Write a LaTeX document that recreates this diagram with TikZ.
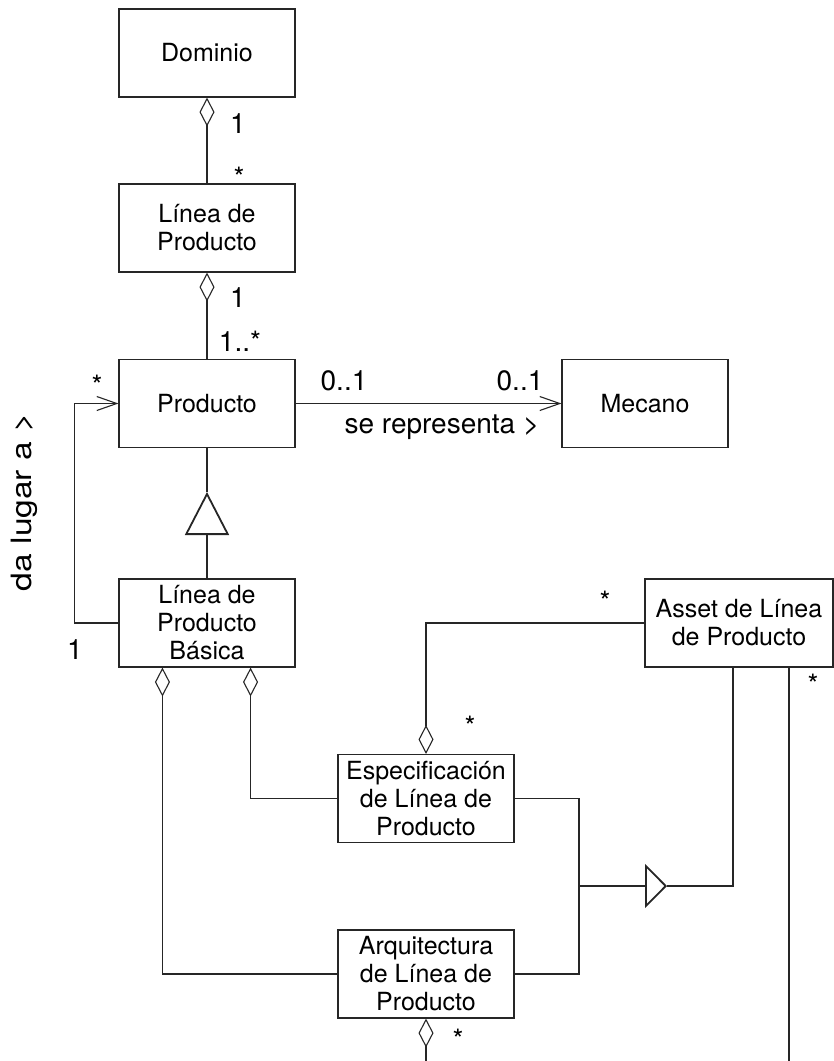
\documentclass[tikz,border=0pt]{standalone}
\usepackage{fontspec}
\setmainfont{TeX Gyre Heros}
\usetikzlibrary{arrows.meta}

\begin{document}
\begin{tikzpicture}[x=0.5pt,y=-0.5pt,line width=0.55pt,draw=black!85,
  clase/.style={draw,minimum width=88pt,minimum height=44pt,inner sep=1pt,align=center,font=\fontsize{12.5}{14}\selectfont},
  mult/.style={anchor=base,inner sep=0pt,font=\fontsize{14}{16}\selectfont},
  agg/.style={{Diamond[open,length=14.5pt,width=7.5pt]}-},
  nav/.style={-{Straight Barb[length=10pt,width=7pt]}},
  gen/.style={line width=0.9pt}]
\useasboundingbox (0,0) rectangle (834,1061);
\node[clase] (dom) at (207,53) {Dominio};
\node[clase] (lin) at (207,228) {Línea de\\Producto};
\node[clase] (prod) at (207,403.5) {Producto};
\node[clase,minimum width=83pt] (mec) at (645,403.5) {Mecano};
\node[clase] (lpb) at (207,623) {Línea de\\Producto\\Básica};
\node[clase,minimum width=94pt] (asset) at (739,623) {Asset de Línea\\de Producto};
\node[clase] (esp) at (426,798.5) {Especificación\\de Línea de\\Producto};
\node[clase] (arq) at (426,974) {Arquitectura\\de Línea de\\Producto};
\coordinate (gtop) at (207,492);
\coordinate (gjoin) at (579,886);
\coordinate (gtip) at (667,886);
\coordinate (arqend) at (426,1061);
\coordinate (assetend) at (789,1061);
\draw[agg] (dom) -- (lin);
\draw[agg] (lin) -- (prod);
\draw[nav] (prod) -- (mec);
\draw[nav] (lpb.west) -- ++(-44,0) |- (prod.west);
\draw[gen,-{Triangle[open,length=21.5pt,width=22pt]}] (lpb) -- (gtop);
\draw[gen] (gtop) -- (prod);
\draw[agg] ([xshift=22pt]lpb.south west) |- (arq.west);
\draw[agg] ([xshift=-22.5pt]lpb.south east) |- (esp.west);
\draw[agg] (esp.north) |- (asset.west);
\draw[agg] (arq.south) -- (arqend);
\draw (asset.south -| assetend) -- (assetend);
\draw (esp.east) -| (gjoin) |- (arq.east);
\draw[gen,-{Triangle[open,length=11pt,width=22pt]}] (gjoin) -- (gtip);
\draw[gen] (gtip) -| ([xshift=-3pt]asset.south);
\node[mult] (m1) at (238,133) {1};
\node[mult] (m2) at (239,187) {*};
\node[mult] (m3) at (238,307) {1};
\node[mult] (m4) at (240,351) {1..*};
\node[mult] (m5) at (97,395) {*};
\node[mult] (m6) at (344,390) {0..1};
\node[mult] (m7) at (520,390) {0..1};
\node[mult] (rep) at (442,433) {se representa >};
\node[mult,rotate=90,xscale=1.2] (lugar) at (32,502) {da lugar a >};
\node[mult] (m8) at (75,659) {1};
\node[mult] (m9) at (605,611) {*};
\node[mult] (m10) at (470,736) {*};
\node[mult] (m11) at (813,694) {*};
\node[mult] (m12) at (458,1049) {*};
\end{tikzpicture}
\end{document}
